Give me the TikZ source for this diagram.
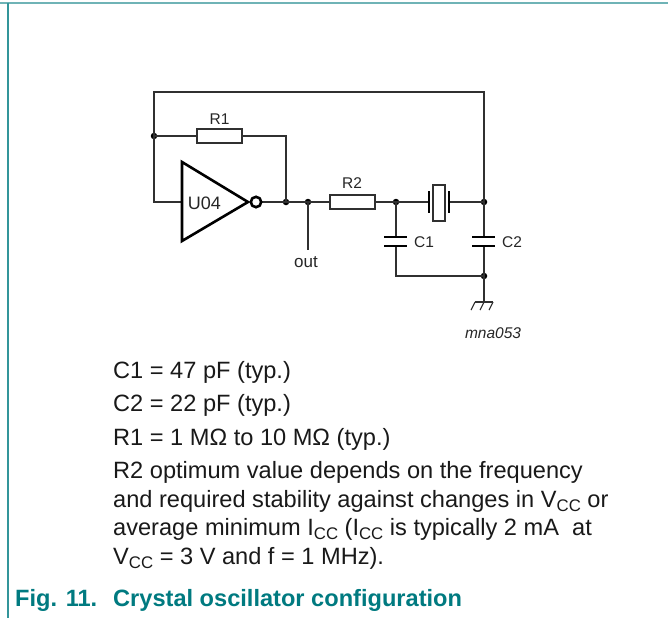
\documentclass[tikz,border=0pt]{standalone}
\usepackage{fontspec}
\setmainfont{Liberation Sans}
\definecolor{teal1}{HTML}{007A80}
\definecolor{teal2}{HTML}{6FB3B6}
\definecolor{wire}{HTML}{303030}
\newcommand{\sbs}[1]{\raisebox{-0.2em}{\fontsize{16.8}{16.8}\selectfont #1}}
\tikzset{
  wireline/.style={draw=wire,line width=1.4pt},
  thick sym/.style={draw=black,line width=2.6pt},
  boxsym/.style={draw=wire,line width=1.4pt,fill=white},
  jdot/.style={circle,fill=black,inner sep=0pt,minimum size=6.5pt},
  lab/.style={font=\fontsize{15.5}{15.5}\selectfont,inner sep=0pt,text=black!85},
  body/.style={font=\fontsize{23.6}{23.6}\selectfont,anchor=base west,inner sep=0pt,text=black!90},
  capt/.style={font=\bfseries\fontsize{23.6}{23.6}\selectfont,anchor=base west,inner sep=0pt,text=teal1},
}
\begin{document}
\begin{tikzpicture}[x=1pt,y=-1pt]
\useasboundingbox (0,0) rectangle (668,618);
\draw[teal2,line width=2pt] (0,3) -- (668,3);
\draw[teal1!80!white,line width=2pt] (8,3) -- (8,618);
% coordinates
\coordinate (tl) at (154,92);
\coordinate (tr) at (484,92);
\node[jdot] (j1) at (154,136) {};
\node[jdot] (j2) at (286,202) {};
\node[jdot] (j3) at (308,202) {};
\node[jdot] (j4) at (396,202) {};
\node[jdot] (j5) at (484,202) {};
\node[jdot] (j6) at (484,276) {};
\coordinate (inp) at (154,202);
\coordinate (c1b) at (396,276);
\coordinate (r1r) at (286,136);
\coordinate (outend) at (308,250);
\coordinate (gnd) at (484,302);
% wires
\draw[wireline] (j1.center) -- (tl) -- (tr) -- (j5.center);
\draw[wireline] (j1.center) -- (inp) -- (182,202);
\draw[wireline] (j1.center) -- (r1r) -- (j2.center);
\draw[wireline] (261,202) -- (j2.center) -- (j3.center) -- (j4.center) -- (j5.center);
\draw[wireline] (j3.center) -- (outend);
\draw[wireline] (j4.center) -- (c1b) -- (j6.center);
\draw[wireline] (j5.center) -- (j6.center) -- (gnd);
% resistors
\node[boxsym,minimum width=45pt,minimum height=14pt,inner sep=0pt] (R1) at (219.5,136) {};
\node[boxsym,minimum width=45pt,minimum height=14pt,inner sep=0pt] (R2) at (352.5,202) {};
\node[lab] (lR1) at (219.5,119) {R1};
\node[lab] (lR2) at (352,183) {R2};
% inverter
\draw[thick sym,line join=miter,fill=white] (182,162) -- (182,241) -- (248,202) -- cycle;
\draw[thick sym,fill=white] (256,202) circle (5.2pt);
\node[font=\fontsize{18}{18}\selectfont,inner sep=0pt,text=black!85] (U) at (204.5,203) {U04};
% crystal
\fill[white] (430,190) rectangle (448,214);
\draw[thick sym] (429,191) -- (429,213);
\draw[thick sym] (449,191) -- (449,213);
\draw[draw=wire,line width=1.4pt,fill=white] (433,185) rectangle (445,221);
% caps
\fill[white] (384,238) rectangle (407,245);
\draw[thick sym] (384,237) -- (407,237);
\draw[thick sym] (384,246) -- (407,246);
\fill[white] (472,238) rectangle (495,245);
\draw[thick sym] (472,237) -- (495,237);
\draw[thick sym] (472,246) -- (495,246);
\node[lab,anchor=west] (lC1) at (414,242) {C1};
\node[lab,anchor=west] (lC2) at (502,242) {C2};
% ground
\draw[wire,line width=1.1pt] (475,302) -- (493,302);
\draw[wire,line width=1.1pt] (475,302) -- (471,310);
\draw[wire,line width=1.1pt] (484,302) -- (480,310);
\draw[wire,line width=1.1pt] (493,302) -- (489,310);
\node[lab,font=\fontsize{17}{17}\selectfont] (lout) at (306,262) {out};
\node[lab,font=\itshape\fontsize{15.5}{15.5}\selectfont] (lmna) at (493,333) {mna053};
% text
\node[body] (t1) at (113,378) {C1 = 47 pF (typ.)};
\node[body] (t2) at (113,411) {C2 = 22 pF (typ.)};
\node[body] (t3) at (113,445) {R1 = 1 MΩ to 10 MΩ (typ.)};
\node[body] (t4) at (113,478) {R2 optimum value depends on the frequency};
\node[body] (t5) at (113,507) {and required stability against changes in V\sbs{CC} or};
\node[body] (t6) at (113,535) {average minimum I\sbs{CC} (I\sbs{CC} is typically 2 mA\ \ at};
\node[body] (t7) at (113,564) {V\sbs{CC} = 3 V and f = 1 MHz).};
\node[capt] (c1) at (15,606) {Fig. 1\kern-1.5pt 1.};
\node[capt] (c2) at (113,606) {Crystal oscillator configuration};
\end{tikzpicture}
\end{document}
